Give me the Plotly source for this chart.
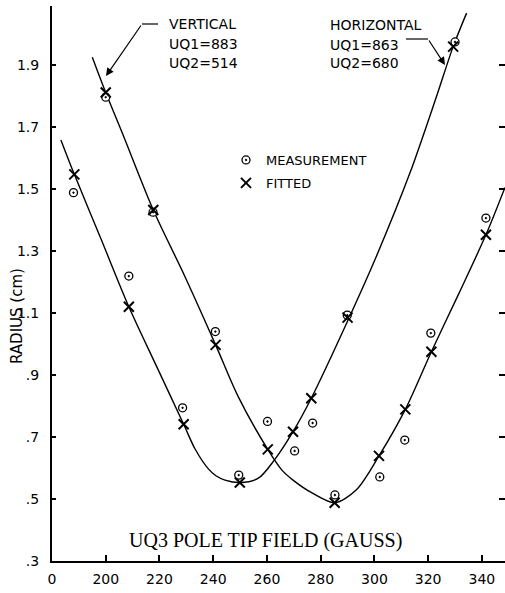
import plotly.graph_objects as go

# ---------------- data ----------------
x_tick_vals = [180, 200, 220, 240, 260, 280, 300, 320, 340]
x_tick_text = ["0", "200", "220", "240", "260", "280", "300", "320", "340"]
y_tick_vals = [0.3, 0.5, 0.7, 0.9, 1.1, 1.3, 1.5, 1.7, 1.9]
y_tick_text = [".3", ".5", ".7", ".9", "1.1", "1.3", "1.5", "1.7", "1.9"]

# Horizontal plane curve (left V)
h_curve_x = [183.3, 188.3, 198.4, 208.6, 218.8, 229.0, 233.2, 238.2, 241.0, 244.4,
             249.9, 256.8, 262.8, 269.7, 276.5, 290.5, 300.7, 313.2, 323.1, 329.3, 334.3]
h_curve_y = [1.658, 1.547, 1.335, 1.120, 0.930, 0.741, 0.662, 0.597, 0.575, 0.561,
             0.553, 0.567, 0.626, 0.717, 0.825, 1.083, 1.282, 1.551, 1.798, 1.959, 2.067]
h_fit_x = [188.3, 208.6, 229.0, 249.9, 269.7, 276.5, 290.0, 329.3]
h_fit_y = [1.547, 1.120, 0.741, 0.553, 0.717, 0.825, 1.085, 1.959]
h_meas_x = [188.0, 208.6, 228.6, 249.5, 270.3, 277.0, 289.9, 330.0]
h_meas_y = [1.488, 1.219, 0.794, 0.577, 0.655, 0.745, 1.093, 1.974]

# Vertical plane curve (right V)
v_curve_x = [195.0, 200.0, 206.5, 217.7, 229.5, 240.9, 249.3, 260.3, 265.5, 269.7,
             277.1, 285.2, 293.3, 301.7, 311.5, 321.2, 331.5, 341.5, 348.6]
v_curve_y = [1.925, 1.811, 1.673, 1.432, 1.217, 0.997, 0.830, 0.660, 0.594, 0.561,
             0.518, 0.488, 0.530, 0.639, 0.789, 0.975, 1.164, 1.352, 1.505]
v_fit_x = [200.0, 217.7, 240.9, 260.3, 285.2, 301.7, 311.5, 321.2, 341.5]
v_fit_y = [1.811, 1.432, 0.997, 0.660, 0.488, 0.639, 0.789, 0.975, 1.352]
v_meas_x = [200.0, 217.6, 240.8, 260.2, 285.3, 302.0, 311.3, 321.0, 341.5]
v_meas_y = [1.796, 1.425, 1.040, 0.750, 0.513, 0.571, 0.690, 1.035, 1.406]

# ---------------- figure ----------------
INK = "black"
L, R, T, B = 52, 0, 6, 32
W, H = 505, 593
PW, PH = W - L - R, H - T - B


def px(x):
    return (x - L) / PW


def py(y):
    return (H - B - y) / PH


fig = go.Figure()

for cx, cy in [(h_curve_x, h_curve_y), (v_curve_x, v_curve_y)]:
    fig.add_trace(go.Scatter(x=cx, y=cy, mode="lines",
                             line=dict(color=INK, width=1.4, shape="spline", smoothing=0.85),
                             showlegend=False, hoverinfo="skip"))

meas_marker = dict(symbol="circle-dot", size=8, color="white",
                   line=dict(color=INK, width=1.3))
fit_marker = dict(symbol="x-thin", size=10, line=dict(color=INK, width=2))

fig.add_trace(go.Scatter(x=h_meas_x, y=h_meas_y, mode="markers", marker=meas_marker,
                         name="MEASUREMENT", legendgroup="m", showlegend=True))
fig.add_trace(go.Scatter(x=v_meas_x, y=v_meas_y, mode="markers", marker=meas_marker,
                         name="MEASUREMENT", legendgroup="m", showlegend=False))
fig.add_trace(go.Scatter(x=h_fit_x, y=h_fit_y, mode="markers", marker=fit_marker,
                         name="FITTED", legendgroup="f", showlegend=True))
fig.add_trace(go.Scatter(x=v_fit_x, y=v_fit_y, mode="markers", marker=fit_marker,
                         name="FITTED", legendgroup="f", showlegend=False))

# dummy trace to realise the right-hand tick axis
fig.add_trace(go.Scatter(x=[None], y=[None], yaxis="y2", showlegend=False,
                         hoverinfo="skip", mode="lines"))

tickfont = dict(family="DejaVu Sans", size=14, color=INK)

fig.update_layout(
    width=W, height=H,
    margin=dict(l=L, r=R, t=T, b=B, pad=0),
    paper_bgcolor="white", plot_bgcolor="white",
    xaxis=dict(range=[180, 348.6], tickvals=x_tick_vals, ticktext=x_tick_text,
               ticks="inside", ticklen=6, tickwidth=1.5, tickcolor=INK,
               showline=True, linewidth=2, linecolor=INK,
               showgrid=False, zeroline=False, tickfont=tickfont,
               ticklabelstandoff=4),
    yaxis=dict(range=[0.3, 2.09], tickvals=y_tick_vals, ticktext=y_tick_text,
               ticks="inside", ticklen=4, tickwidth=1.5, tickcolor=INK,
               showline=True, linewidth=2, linecolor=INK,
               showgrid=False, zeroline=False, tickfont=tickfont,
               ticklabelstandoff=8),
    yaxis2=dict(range=[0.3, 2.09], tickvals=y_tick_vals, overlaying="y", side="right",
                ticks="inside", ticklen=6, tickwidth=1.5, tickcolor=INK,
                showline=False, showgrid=False, zeroline=False, showticklabels=False),
    legend=dict(x=px(226), y=py(145), xanchor="left", yanchor="top",
                font=dict(family="DejaVu Sans", size=13, color=INK),
                bgcolor="rgba(0,0,0,0)", tracegroupgap=3, traceorder="grouped"),
    showlegend=True,
)

ann_font = dict(family="DejaVu Sans", size=14, color=INK)
texts = [
    ("VERTICAL", 167, 24), ("UQ1=883", 167, 44), ("UQ2=514", 167, 63),
    ("HORIZONTAL", 328, 25), ("UQ1=863", 328, 45), ("UQ2=680", 328, 63),
]
for t, x, y in texts:
    fig.add_annotation(text=t, x=px(x), y=py(y), xref="paper", yref="paper",
                       xanchor="left", yanchor="middle", showarrow=False, font=ann_font)

# leader arrows
fig.add_annotation(text="", x=px(106), y=py(76), xref="paper", yref="paper",
                   ax=36, ay=-52, showarrow=True, arrowhead=2, arrowsize=1.3,
                   arrowwidth=1.2, arrowcolor=INK)
fig.add_annotation(text="", x=px(445), y=py(65), xref="paper", yref="paper",
                   ax=-17, ay=-26, showarrow=True, arrowhead=2, arrowsize=1.3,
                   arrowwidth=1.2, arrowcolor=INK)
fig.add_shape(type="line", xref="paper", yref="paper", x0=px(142), x1=px(158),
              y0=py(24), y1=py(24), line=dict(color=INK, width=1.2))
fig.add_shape(type="line", xref="paper", yref="paper", x0=px(406), x1=px(428),
              y0=py(39), y1=py(39), line=dict(color=INK, width=1.2))

# axis titles
fig.add_annotation(text="UQ3 POLE TIP FIELD (GAUSS)", x=px(265), y=py(540),
                   xref="paper", yref="paper", showarrow=False,
                   xanchor="center", yanchor="middle",
                   font=dict(family="Liberation Serif", size=20, color=INK))
fig.add_annotation(text="RADIUS (cm)", x=px(17), y=py(316), xref="paper", yref="paper",
                   showarrow=False, textangle=-90, xanchor="center", yanchor="middle",
                   font=dict(family="DejaVu Sans", size=15, color=INK))

fig.write_html("out.html", config={"displayModeBar": False},
               post_script="document.body.style.margin='0px';")
